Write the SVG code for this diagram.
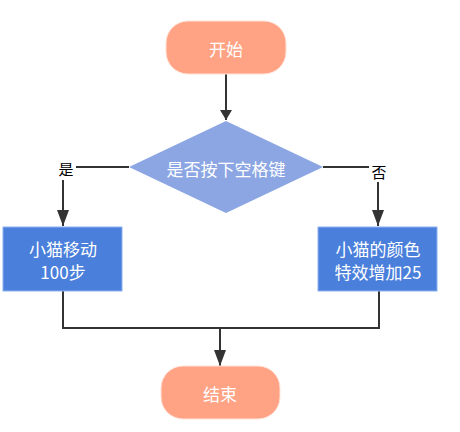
<svg xmlns="http://www.w3.org/2000/svg" width="460" height="432" viewBox="0 0 460 432">
<style>
.term{fill:#FFA384;stroke:#FFE3D9;stroke-width:1}
.dec{fill:#8BA6E3}
.proc{fill:#4A7FDB;stroke:#8DB2F0;stroke-width:1}
.t{font-family:"Noto Sans CJK SC","Liberation Sans",sans-serif;font-size:17px;fill:#FFFFFF;text-anchor:middle;dominant-baseline:central}
.lbl{font-family:"Noto Sans CJK SC","Liberation Sans",sans-serif;font-size:15px;fill:#000;text-anchor:middle;dominant-baseline:central}
.c{fill:none;stroke:#333;stroke-width:2}
</style>
<defs>
<marker id="arr" markerWidth="10" markerHeight="12" refX="10" refY="6" orient="auto" markerUnits="userSpaceOnUse">
<path d="M0,0 L10,6 L0,12 Z" fill="#333"/>
</marker>
<marker id="arrL" markerWidth="16" markerHeight="12" refX="16" refY="6" orient="auto" markerUnits="userSpaceOnUse">
<path d="M0,0 L16,6 L0,12 Z" fill="#333"/>
</marker>
</defs>
<rect width="460" height="432" fill="#fff"/>
<g id="connectors">
<path class="c" d="M226,74 V120" marker-end="url(#arr)"/>
<path class="c" d="M129,167 H63 V226" marker-end="url(#arrL)"/>
<path class="c" d="M323,167 H378 V226" marker-end="url(#arrL)"/>
<path class="c" d="M63,291 V328 H379 V291"/>
<path class="c" d="M220,328 V366" marker-end="url(#arrL)"/>
<rect x="56" y="157" width="20" height="23" fill="#fff"/>
<text class="lbl" x="66" y="168">是</text>
<rect x="369" y="160" width="21" height="22" fill="#fff"/>
<text class="lbl" x="379" y="171">否</text>
</g>
<g id="start">
<rect class="term" x="166" y="21" width="120" height="53" rx="22" ry="22"/>
<text class="t" x="226" y="48">开始</text>
</g>
<g id="decision">
<polygon class="dec" points="226,121 323,167 226,213 129,167"/>
<text class="t" x="226" y="168">是否按下空格键</text>
</g>
<g id="move">
<rect class="proc" x="3" y="227" width="119" height="64"/>
<text class="t" x="63" y="248">小猫移动</text>
<text class="t" x="63" y="271">100步</text>
</g>
<g id="color">
<rect class="proc" x="318" y="227" width="119" height="64"/>
<text class="t" x="378" y="248">小猫的颜色</text>
<text class="t" x="378" y="271">特效增加25</text>
</g>
<g id="end">
<rect class="term" x="161" y="366" width="119" height="53" rx="22" ry="22"/>
<text class="t" x="220" y="393">结束</text>
</g>
</svg>
